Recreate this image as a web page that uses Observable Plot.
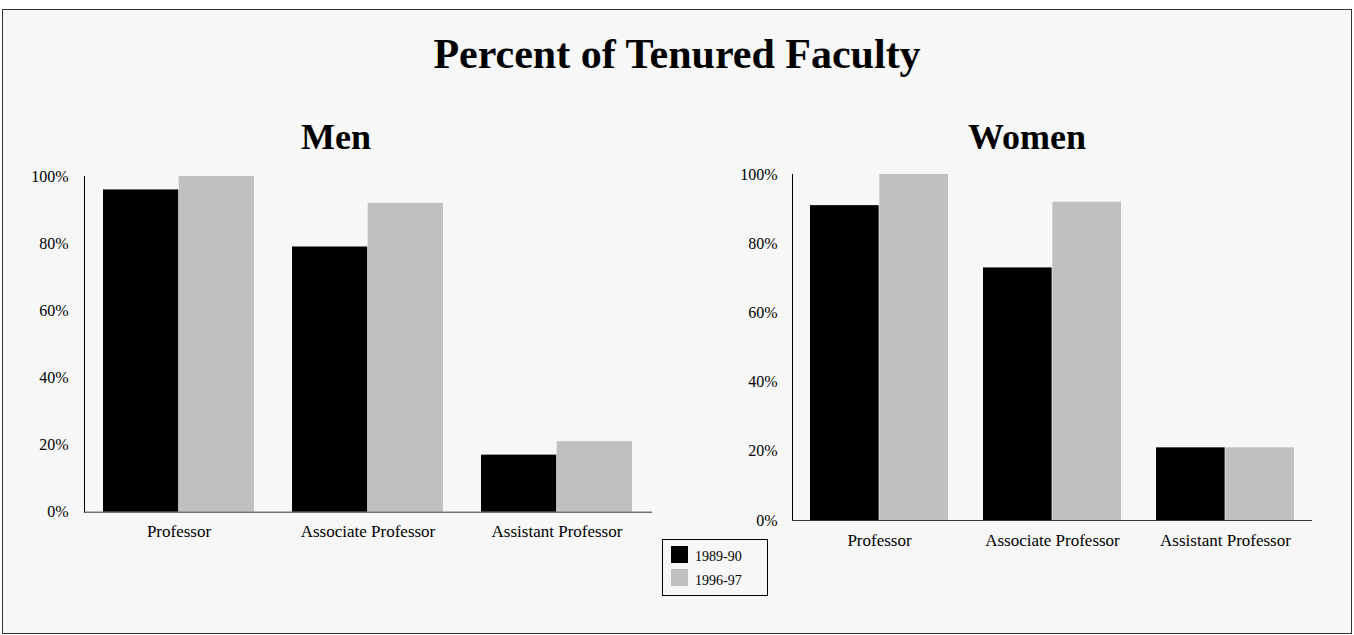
<!DOCTYPE html>
<html>
<head>
<meta charset="utf-8">
<script src="https://cdn.jsdelivr.net/npm/d3@7"></script>
<script src="https://cdn.jsdelivr.net/npm/@observablehq/plot@0.6"></script>
<style>
  html, body { margin: 0; padding: 0; background: #ffffff; }
  #page { position: relative; width: 1354px; height: 635px; overflow: hidden; font-family: "Liberation Serif", "Times New Roman", serif; }
  #frame { position: absolute; left: 2px; top: 9px; width: 1350px; height: 625px; box-sizing: border-box; border: 1px solid #333; background: #f7f7f7; }
  .t { position: absolute; text-align: center; font-weight: bold; white-space: nowrap; color: #000; }
  .panel { position: absolute; }
  #legend { position: absolute; left: 662px; top: 539px; width: 106px; height: 57px; box-sizing: border-box; border: 1px solid #000; background: #f7f7f7; }
  .sw { position: absolute; left: 8px; width: 17px; height: 17px; }
  .lt { position: absolute; left: 32px; font-size: 14px; line-height: 14px; white-space: nowrap; color: #000; }
</style>
</head>
<body>
<div id="page">
  <div id="frame"></div>
  <div class="t" id="title" style="left:0;width:1354px;top:33px;font-size:42px;line-height:42px;">Percent of Tenured Faculty</div>
  <div class="t" id="tmen" style="left:236px;width:200px;top:119px;font-size:36px;line-height:36px;">Men</div>
  <div class="t" id="twomen" style="left:927px;width:200px;top:119px;font-size:36px;line-height:36px;">Women</div>
  <div class="panel" id="men" style="left:0px;top:160px;"></div>
  <div class="panel" id="women" style="left:700px;top:160px;"></div>
  <div id="legend"></div>
</div>
<script>
const categories = ["Professor", "Associate Professor", "Assistant Professor"];
const years = ["1989-90", "1996-97"];
const men1989 = [96, 79, 17];
const men1996 = [100, 92, 21];
const women1989 = [91, 73, 21];
const women1996 = [100, 92, 21];
const yTicks = [0, 20, 40, 60, 80, 100];
const yearColors = ["#000000", "#c0c0c0"];

function panel(v1, v2, cfg) {
  const rows1 = categories.map((c, i) => ({category: c, year: years[0], value: v1[i]}));
  const rows2 = categories.map((c, i) => ({category: c, year: years[1], value: v2[i]}));
  const plotW = cfg.width - cfg.marginLeft - cfg.marginRight;
  const step = plotW / 3;
  const half = step * 0.8 / 2;
  return Plot.plot({
    width: cfg.width,
    height: cfg.height,
    marginLeft: cfg.marginLeft,
    marginRight: cfg.marginRight,
    marginTop: cfg.marginTop,
    marginBottom: cfg.marginBottom,
    style: {background: "transparent", fontFamily: "'Liberation Serif', 'Times New Roman', serif", fontSize: "16px", color: "#000", overflow: "visible"},
    x: {domain: categories, paddingInner: 0.2, paddingOuter: 0.1, axis: null},
    y: {domain: [0, 100], ticks: yTicks, tickSize: 0, tickPadding: cfg.yPad, tickFormat: d => d + "%", label: null, line: true},
    marks: [
      Plot.barY(rows1, {x: "category", y: "value", fill: yearColors[0], insetRight: half}),
      Plot.barY(rows2, {x: "category", y: "value", fill: yearColors[1], insetLeft: half}),
      Plot.ruleY([0], {stroke: "#333"}),
      Plot.axisX({anchor: "bottom", tickSize: 0, tickPadding: 13, fontSize: 17, label: null})
    ]
  });
}

document.getElementById("men").appendChild(panel(men1989, men1996, {
  width: 680, height: 400, marginLeft: 84, marginRight: 28, marginTop: 16, marginBottom: 48.3, yPad: 16
}));
document.getElementById("women").appendChild(panel(women1989, women1996, {
  width: 654, height: 400, marginLeft: 92, marginRight: 42, marginTop: 14, marginBottom: 40, yPad: 15
}));

const legend = document.getElementById("legend");
years.forEach((y, i) => {
  const sw = document.createElement("div");
  sw.className = "sw";
  sw.style.top = (6 + i * 23) + "px";
  sw.style.background = yearColors[i];
  legend.appendChild(sw);
  const t = document.createElement("div");
  t.className = "lt";
  t.style.top = (10 + i * 24) + "px";
  t.textContent = y;
  legend.appendChild(t);
});
</script>
</body>
</html>
